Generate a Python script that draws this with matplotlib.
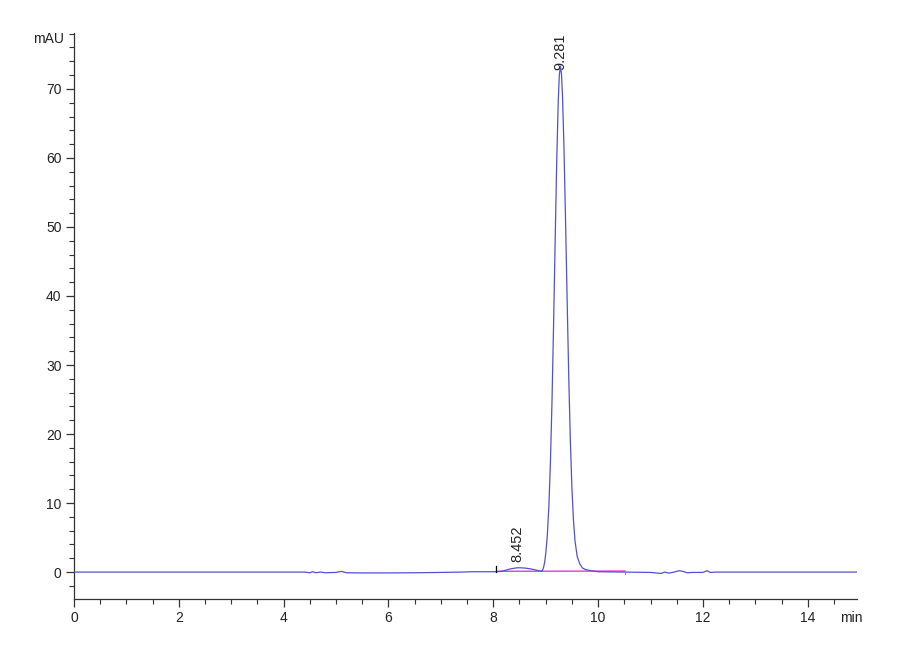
import matplotlib
matplotlib.use("Agg")
import matplotlib.pyplot as plt
from matplotlib.ticker import MultipleLocator

plt.rcParams['font.family'] = ['Liberation Sans Narrow', 'Liberation Sans', 'DejaVu Sans']

# chromatogram trace (time in min, signal in mAU)
time_min = [0.0, 1.0, 2.0, 3.0, 4.0, 4.40, 4.50, 4.55, 4.62, 4.70, 4.80, 5.00, 5.10, 5.20,
            5.50, 6.00, 6.50, 7.00, 7.40, 7.60, 8.00, 8.06, 8.15, 8.25, 8.32, 8.40,
            8.452, 8.52, 8.60, 8.70, 8.80, 8.87, 8.91, 8.94, 8.96, 8.98, 9.00, 9.03,
            9.06, 9.09, 9.12, 9.15, 9.18, 9.21, 9.24, 9.26, 9.281, 9.30, 9.32, 9.35,
            9.38, 9.41, 9.44, 9.47, 9.50, 9.53, 9.56, 9.60, 9.65, 9.70, 9.75, 9.80,
            9.90, 10.00, 10.50, 11.00, 11.20, 11.27, 11.35, 11.45, 11.55, 11.62, 11.70,
            11.80, 12.00, 12.08, 12.14, 12.25, 13.00, 14.00, 14.94]
signal_mau = [0.0, 0.0, 0.0, 0.0, 0.0, 0.0, -0.1, 0.05, -0.1, 0.0, -0.1, -0.05, 0.1, -0.1,
              -0.12, -0.12, -0.1, -0.05, 0.0, 0.05, 0.05, 0.05, 0.1, 0.3, 0.45, 0.55,
              0.62, 0.62, 0.58, 0.48, 0.32, 0.2, 0.12, 0.25, 0.7, 1.4, 2.6, 5.2,
              9.4, 15.8, 24.6, 35.6, 47.7, 59.3, 68.3, 72.0, 73.3, 72.3, 69.2, 61.2,
              50.6, 39.1, 28.3, 19.2, 12.3, 7.5, 4.5, 2.3, 1.2, 0.6, 0.4, 0.3,
              0.15, 0.05, 0.0, -0.05, -0.2, 0.0, -0.15, 0.0, 0.2, 0.1, -0.1,
              -0.05, -0.05, 0.2, -0.05, 0.0, 0.0, 0.0, 0.0]

# integration baseline and peak marks
baseline_t = [8.06, 10.51]
baseline_v = [0.12, 0.15]
peak_times = [8.452, 9.281]
peak_heights = [0.62, 73.3]
peak_labels = ["8.452", "9.281"]

x_ticks = [0, 2, 4, 6, 8, 10, 12, 14]
y_ticks = [0, 10, 20, 30, 40, 50, 60, 70]

fig = plt.figure(figsize=(9, 6.6), dpi=100)
ax = fig.add_axes([74 / 900, 1 - 599 / 660, (857 - 74) / 900, (599 - 33) / 660])

ax.plot(time_min, signal_mau, color='#5252d0', linewidth=0.9, zorder=3)
ax.plot(baseline_t, baseline_v, color='#e020e0', linewidth=0.9, zorder=2)
ax.plot([baseline_t[0], baseline_t[0]], [0.0, 0.9], color='black', linewidth=0.9, zorder=4)
ax.plot([baseline_t[1], baseline_t[1]], [-0.3, 0.15], color='#888888', linewidth=0.7, zorder=4)

ax.annotate(peak_labels[0], xy=(peak_times[0], peak_heights[0]), xytext=(0, 4.5),
            textcoords='offset points', rotation=90, ha='center', va='bottom',
            fontsize=10.5, color='#222222')
ax.annotate(peak_labels[1], xy=(peak_times[1], peak_heights[1]), xytext=(0, -3),
            textcoords='offset points', rotation=90, ha='center', va='bottom',
            fontsize=10.5, color='#222222')

ax.set_xlim(0, 14.94)
ax.set_ylim(-3.9, 78.1)
ax.set_xticks(x_ticks)
ax.set_yticks(y_ticks)
ax.xaxis.set_minor_locator(MultipleLocator(0.5))
ax.yaxis.set_minor_locator(MultipleLocator(2))

for s in ['top', 'right']:
    ax.spines[s].set_visible(False)
for s in ['left', 'bottom']:
    ax.spines[s].set_color('#333333')
    ax.spines[s].set_linewidth(0.9)

ax.tick_params(axis='both', which='major', direction='out', length=6, width=0.9,
               color='#333333', labelsize=10, labelcolor='#222222', pad=3)
ax.tick_params(axis='both', which='minor', direction='out', length=3.5, width=0.8,
               color='#333333')

fig.text(64 / 900, 1 - 39 / 660, "mAU", ha='right', va='center', fontsize=10, color='#222222')
fig.text(851 / 900, 1 - 618 / 660, "min", ha='center', va='center', fontsize=10, color='#222222')

fig.savefig("out.png", dpi=100, facecolor='white')
